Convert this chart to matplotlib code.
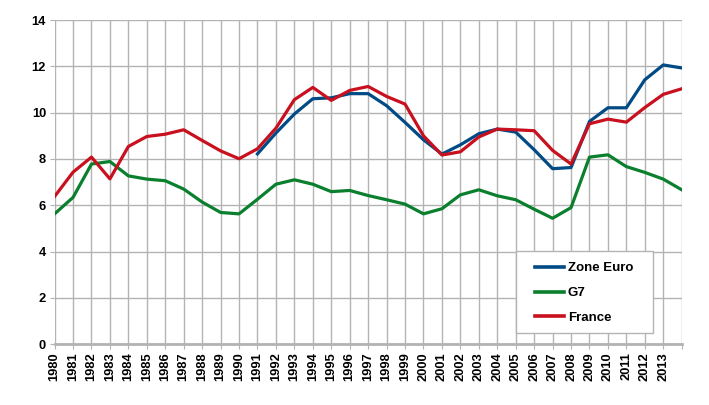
import matplotlib.pyplot as plt
from matplotlib.patches import Rectangle

years = list(range(1980, 2015))
year_labels = [str(y) for y in range(1980, 2014)] + [""]

zone_euro_years = list(range(1991, 2015))
zone_euro = [8.22, 9.12, 9.94, 10.60, 10.64, 10.82, 10.82, 10.30, 9.58, 8.83,
             8.21, 8.61, 9.09, 9.29, 9.16, 8.40, 7.58, 7.63, 9.62, 10.21,
             10.21, 11.42, 12.06, 11.93]
g7 = [5.63, 6.34, 7.78, 7.89, 7.27, 7.13, 7.06, 6.70, 6.14, 5.69,
      5.63, 6.26, 6.91, 7.10, 6.91, 6.59, 6.64, 6.42, 6.24, 6.05,
      5.63, 5.85, 6.45, 6.67, 6.41, 6.24, 5.83, 5.44, 5.90, 8.08,
      8.18, 7.67, 7.42, 7.13, 6.67]
france = [6.38, 7.43, 8.08, 7.14, 8.54, 8.97, 9.07, 9.26, 8.80, 8.35,
          8.01, 8.44, 9.33, 10.56, 11.09, 10.53, 10.96, 11.13, 10.70, 10.37,
          9.00, 8.17, 8.31, 8.95, 9.29, 9.26, 9.22, 8.37, 7.78, 9.52,
          9.72, 9.59, 10.22, 10.79, 11.03]

plt.rcParams["font.family"] = ["Liberation Sans", "DejaVu Sans"]
plt.rcParams["font.weight"] = "bold"

fig = plt.figure(figsize=(7.09, 4.05), dpi=100)
ax = fig.add_axes([0.077, 0.15, 0.8845, 0.8006])

ax.plot(zone_euro_years, zone_euro, color="#004a86", lw=2.3, label="Zone Euro")
ax.plot(years, g7, color="#0a7f2e", lw=2.3, label="G7")
ax.plot(years, france, color="#c8101e", lw=2.3, label="France")

ax.set_xlim(1980, 2014)
ax.set_ylim(0, 14)
ax.set_xticks(years)
ax.set_xticklabels(year_labels, rotation=90, fontsize=9.3, fontweight="bold")
ax.set_yticks(range(0, 15, 2))
ax.tick_params(axis="y", labelsize=9.3, length=3.6, color="#b3b3b3", pad=2.5)
ax.tick_params(axis="x", length=3.6, color="#b3b3b3", pad=2)

ax.grid(True, color="#b3b3b3", lw=1)
ax.set_axisbelow(True)
for side in ["top", "right", "left"]:
    ax.spines[side].set_visible(False)
ax.spines["bottom"].set_color("#b3b3b3")
ax.spines["bottom"].set_linewidth(2)

# legend box drawn separately so its size matches the original
ax.add_patch(Rectangle((0.735, 0.034), 0.219, 0.254, transform=ax.transAxes,
                       facecolor="white", edgecolor="#b3b3b3", lw=1, zorder=3))
leg = ax.legend(loc="center left", bbox_to_anchor=(0.766, 0.158), frameon=False,
                prop={"size": 9.5, "weight": "bold"}, handlelength=2.2,
                handletextpad=0.3, labelspacing=0.95, borderpad=0, borderaxespad=0)
leg.set_zorder(4)
for line in leg.get_lines():
    line.set_linewidth(2.6)

fig.savefig("out.png", dpi=100)
